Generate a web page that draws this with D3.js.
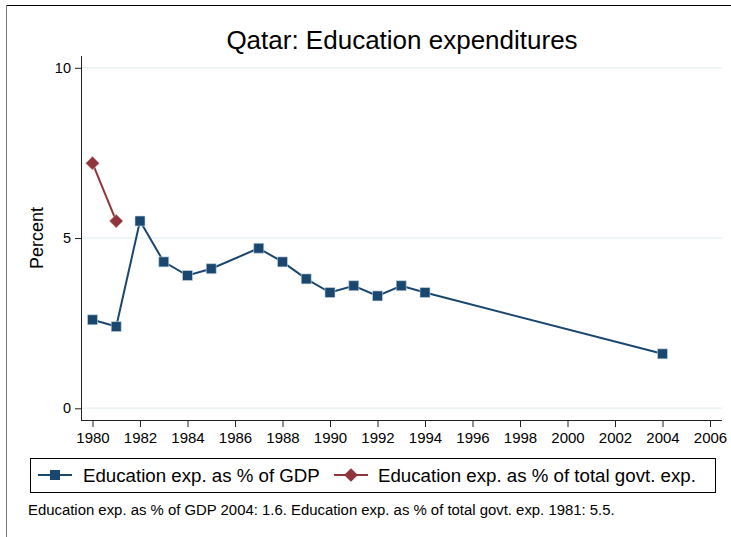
<!DOCTYPE html>
<meta charset="utf-8">
<script src="https://d3js.org/d3.v7.min.js"></script>
<style>
  body { margin: 0; background: #fff; }
  text { font-family: "Liberation Sans", Arial, sans-serif; fill: #000; }
</style>
<div id="my_dataviz"></div>
<script>

// data
var gdpYears = [1980, 1981, 1982, 1983, 1984, 1985, 1987, 1988, 1989, 1990, 1991, 1992, 1993, 1994, 2004];
var gdpValues = [2.6, 2.4, 5.5, 4.3, 3.9, 4.1, 4.7, 4.3, 3.8, 3.4, 3.6, 3.3, 3.6, 3.4, 1.6];
var govYears = [1980, 1981];
var govValues = [7.2, 5.5];
var xTicks = [1980, 1982, 1984, 1986, 1988, 1990, 1992, 1994, 1996, 1998, 2000, 2002, 2004, 2006];
var yTicks = [0, 5, 10];
var seriesNames = ["Education exp. as % of GDP", "Education exp. as % of total govt. exp."];
var noteText = "Education exp. as % of GDP 2004: 1.6. Education exp. as % of total govt. exp. 1981: 5.5.";

var blue = "#1a476f", red = "#90353b";

var W = 731, H = 537;
var svg = d3.select("#my_dataviz")
    .append("svg")
    .attr("width", W)
    .attr("height", H);

svg.append("rect").attr("width", W).attr("height", H).attr("fill", "#fff");

// outer frame (only top & left visible)
svg.append("line").attr("x1", 6).attr("x2", W).attr("y1", 5.5).attr("y2", 5.5)
    .attr("stroke", "#000").attr("stroke-width", 1.2);
svg.append("line").attr("x1", 6.5).attr("x2", 6.5).attr("y1", 5).attr("y2", H)
    .attr("stroke", "#777").attr("stroke-width", 1);

// plot region
var plot = {left: 81, right: 722, top: 56, bottom: 420};

var x = d3.scaleLinear().domain([1980, 2006]).range([92.5, 710]);
var y = d3.scaleLinear().domain([0, 10]).range([408.3, 67.8]);

// gridlines
svg.append("g")
    .selectAll("line")
    .data(yTicks)
    .enter().append("line")
    .attr("x1", plot.left).attr("x2", plot.right)
    .attr("y1", function(d) { return y(d); })
    .attr("y2", function(d) { return y(d); })
    .attr("stroke", "#eaf2f3").attr("stroke-width", 1.5);

// y axis
var yAxis = svg.append("g")
    .attr("transform", "translate(" + plot.left + ",0)")
    .call(d3.axisLeft(y).tickValues(yTicks).tickSize(6).tickPadding(4).tickFormat(d3.format("d")));
yAxis.select(".domain").attr("d", "M0.5," + plot.top + "V" + plot.bottom);
yAxis.selectAll("text").style("font-size", "14.5px");

// x axis
var xAxis = svg.append("g")
    .attr("transform", "translate(0," + plot.bottom + ")")
    .call(d3.axisBottom(x).tickValues(xTicks).tickSize(7).tickPadding(5).tickFormat(d3.format("d")));
xAxis.select(".domain").attr("d", "M" + plot.left + ",0.5H" + plot.right);
xAxis.selectAll("text").style("font-size", "15px");
svg.selectAll(".domain, .tick line").attr("stroke", "#222");

// title
svg.append("text")
    .attr("x", 402).attr("y", 49)
    .attr("text-anchor", "middle")
    .style("font-size", "26px")
    .text("Qatar: Education expenditures");

// y label
svg.append("text")
    .attr("transform", "translate(43,238) rotate(-90)")
    .attr("text-anchor", "middle")
    .style("font-size", "18px")
    .text("Percent");

var line = d3.line()
    .x(function(d) { return x(d[0]); })
    .y(function(d) { return y(d[1]); });

var gdp = d3.zip(gdpYears, gdpValues);
var gov = d3.zip(govYears, govValues);

svg.append("path").datum(gdp).attr("d", line)
    .attr("fill", "none").attr("stroke", blue).attr("stroke-width", 2);
svg.append("path").datum(gov).attr("d", line)
    .attr("fill", "none").attr("stroke", red).attr("stroke-width", 2);

var sq = d3.symbol().type(d3.symbolSquare).size(100);
var dm = d3.symbol().type(d3.symbolDiamond2).size(120);

svg.append("g").selectAll("path")
    .data(gdp).enter().append("path")
    .attr("d", sq)
    .attr("transform", function(d) { return "translate(" + x(d[0]) + "," + y(d[1]) + ")"; })
    .attr("fill", blue).attr("stroke", "#c9d6e0").attr("stroke-width", 0.6);

svg.append("g").selectAll("path")
    .data(gov).enter().append("path")
    .attr("d", dm)
    .attr("transform", function(d) { return "translate(" + x(d[0]) + "," + y(d[1]) + ")"; })
    .attr("fill", red).attr("stroke", "#e0c8ca").attr("stroke-width", 0.6);

// legend
svg.append("rect")
    .attr("x", 30.5).attr("y", 458.5).attr("width", 685).attr("height", 34)
    .attr("fill", "#fff").attr("stroke", "#000").attr("stroke-width", 1);

var legendItems = [
    {name: seriesNames[0], color: blue, sym: sq, lx: 38, tx: 83},
    {name: seriesNames[1], color: red, sym: dm, lx: 334, tx: 378}
];
legendItems.forEach(function(it) {
    svg.append("line")
        .attr("x1", it.lx).attr("x2", it.lx + 34).attr("y1", 475).attr("y2", 475)
        .attr("stroke", it.color).attr("stroke-width", 2);
    svg.append("path").attr("d", it.sym)
        .attr("transform", "translate(" + (it.lx + 17) + ",475)")
        .attr("fill", it.color);
    svg.append("text")
        .attr("x", it.tx).attr("y", 482)
        .style("font-size", "18.7px")
        .text(it.name);
});

// note
svg.append("text")
    .attr("x", 28).attr("y", 515)
    .style("font-size", "14.9px")
    .text(noteText);

</script>
